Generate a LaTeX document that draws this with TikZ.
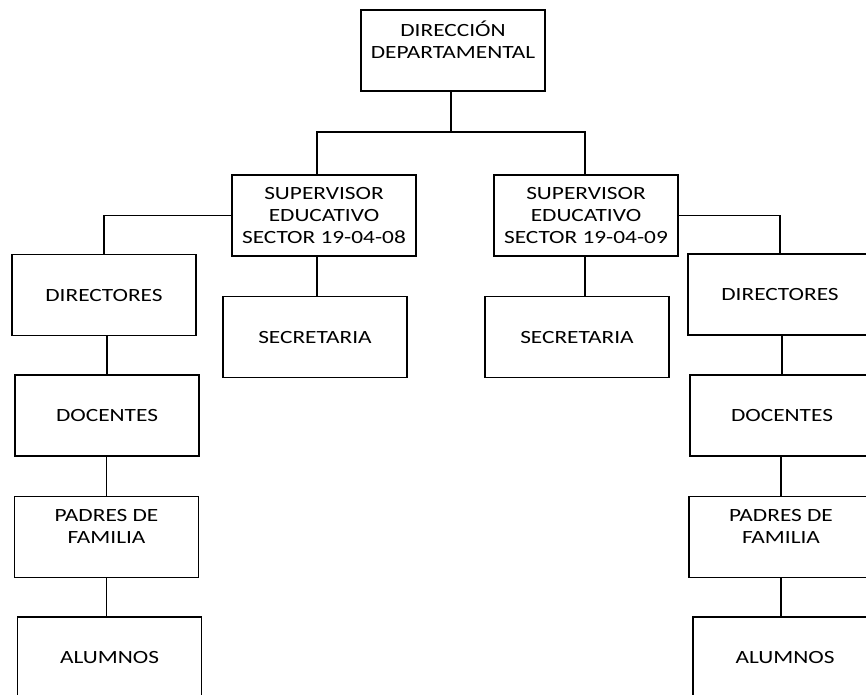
\documentclass[tikz,border=0pt]{standalone}
\usepackage{fontspec}
\setmainfont[FakeStretch=1.25]{Carlito}
\begin{document}
\begin{tikzpicture}[x=0.75pt,y=-0.75pt,
  box/.style={draw,line width=1pt,rectangle,minimum width=138pt,minimum height=60.75pt,inner sep=0pt,align=center,
    font=\fontsize{14pt}{16.3pt}\selectfont},
  conn/.style={line width=1pt}]
\useasboundingbox (0,0) rectangle (866,694);
\clip (0,0) rectangle (866,694);
\node[box] (top) at (453,50.5) {DIRECCIÓN\\DEPARTAMENTAL\\\mbox{}};
\node[box] (supL) at (324,215.5) {SUPERVISOR\\EDUCATIVO\\SECTOR 19-04-08};
\node[box] (supR) at (586,215.5) {SUPERVISOR\\EDUCATIVO\\SECTOR 19-04-09};
\node[box] (secL) at (315,337) {SECRETARIA};
\node[box] (secR) at (577,337) {SECRETARIA};
\node[box] (dirL) at (104,295) {DIRECTORES};
\node[box] (dirR) at (780,294.5) {DIRECTORES};
\node[box] (docL) at (107,415.5) {DOCENTES};
\node[box] (docR) at (782,415.5) {DOCENTES};
\node[box] (padL) at (106.5,537) {PADRES DE\\FAMILIA\\\mbox{}};
\node[box] (padR) at (781,537) {PADRES DE\\FAMILIA\\\mbox{}};
\node[box] (aluL) at (109.5,657.5) {ALUMNOS};
\node[box] (aluR) at (785,657.5) {ALUMNOS};
\coordinate (jT) at (451,132);
\coordinate (jL) at (317,132);
\coordinate (jR) at (585,132);
\draw[conn] (jT |- top.south) -- (jT);
\draw[conn] (jL |- supL.north) -- (jL) -- (jR) -- (jR |- supR.north);
\draw[conn] (jL |- supL.south) -- (jL |- secL.north);
\draw[conn] (jR |- supR.south) -- (jR |- secR.north);
\draw[conn] (supL.west) -| (dirL.north);
\draw[conn] (supR.east) -| (dirR.north);
\draw[conn] (docL.north |- dirL.south) -- (docL.north);
\draw[conn] (padL.north |- docL.south) -- (padL.north);
\draw[conn] (padL.south) -- (padL.south |- aluL.north);
\draw[conn] (docR.north |- dirR.south) -- (docR.north);
\draw[conn] (padR.north |- docR.south) -- (padR.north);
\draw[conn] (padR.south) -- (padR.south |- aluR.north);
\end{tikzpicture}
\end{document}
